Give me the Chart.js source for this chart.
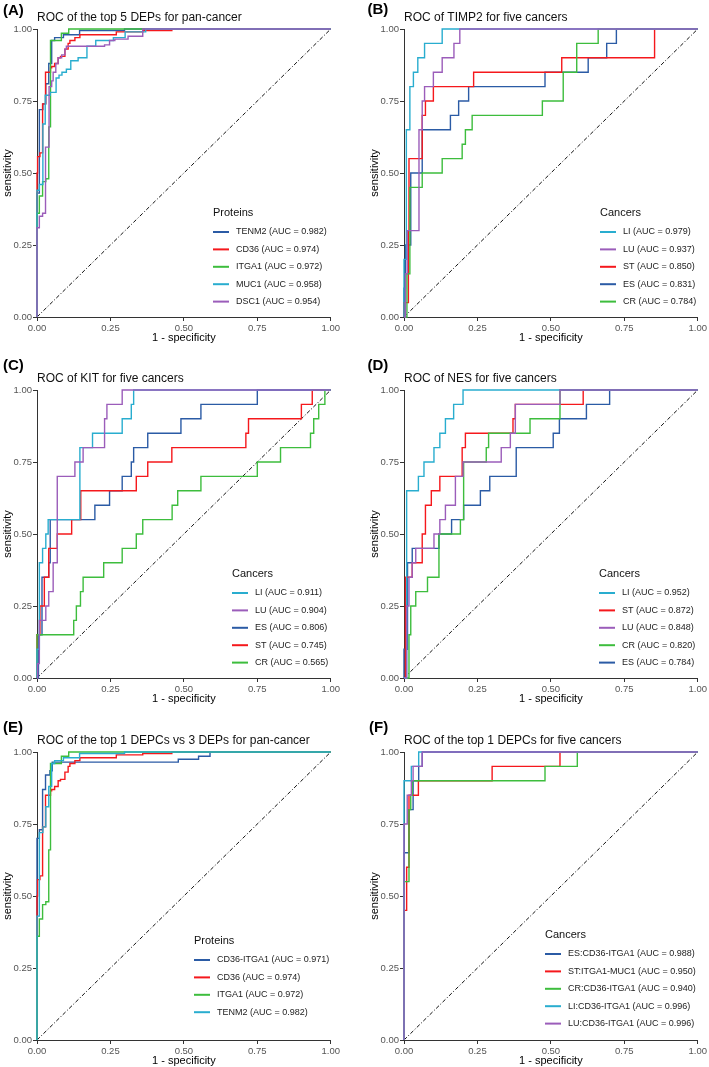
<!DOCTYPE html>
<html>
<head>
<meta charset="utf-8">
<script src="https://cdn.jsdelivr.net/npm/chart.js@4.4.1/dist/chart.umd.min.js"></script>
<style>
  body { margin: 0; background: #fff; }
  #wrap { position: relative; width: 709px; height: 1067px; overflow: hidden; background: #fff; }
  canvas { position: absolute; }
</style>
</head>
<body>
<div id="wrap">
  <canvas id="pA" width="342" height="364" style="left:0px;top:-11px"></canvas>
  <canvas id="pB" width="342" height="364" style="left:367px;top:-11px"></canvas>
  <canvas id="pC" width="342" height="364" style="left:0px;top:350px"></canvas>
  <canvas id="pD" width="342" height="364" style="left:367px;top:350px"></canvas>
  <canvas id="pE" width="342" height="364" style="left:0px;top:712px"></canvas>
  <canvas id="pF" width="342" height="364" style="left:367px;top:712px"></canvas>
</div>
<script>
// --- Data: ROC curves as [1 - specificity, sensitivity] step points ---

// shared pan-cancer proteins (panels A and E)
const rocTENM2 = [[0,0],[0,0.43],[0.008,0.72],[0.02,0.74],[0.03,0.81],[0.04,0.88],[0.05,0.96],[0.06,0.97],[0.09,0.98],[0.145,0.995],[0.298,1],[1,1]];
const rocCD36 = [[0,0],[0,0.5],[0.002,0.557],[0.01,0.57],[0.019,0.67],[0.019,0.74],[0.029,0.82],[0.029,0.85],[0.046,0.865],[0.05,0.87],[0.06,0.88],[0.072,0.9],[0.08,0.905],[0.095,0.93],[0.106,0.95],[0.112,0.96],[0.129,0.97],[0.146,0.98],[0.27,0.99],[0.36,0.995],[0.459,1],[1,1]];
const rocITGA1 = [[0,0],[0,0.36],[0.008,0.42],[0.019,0.47],[0.03,0.48],[0.04,0.66],[0.046,0.96],[0.083,0.985],[0.108,1],[1,1]];
const rocMUC1 = [[0,0],[0,0.44],[0.008,0.46],[0.02,0.48],[0.02,0.67],[0.028,0.77],[0.045,0.78],[0.065,0.83],[0.075,0.84],[0.085,0.85],[0.1,0.86],[0.115,0.89],[0.14,0.9],[0.17,0.94],[0.2,0.96],[0.26,0.97],[0.3,0.99],[0.37,1],[1,1]];
const rocDSC1 = [[0,0],[0,0.31],[0.008,0.35],[0.019,0.36],[0.029,0.59],[0.041,0.8],[0.05,0.82],[0.055,0.85],[0.064,0.88],[0.072,0.9],[0.084,0.91],[0.095,0.93],[0.1,0.94],[0.23,0.945],[0.247,0.96],[0.265,0.965],[0.31,0.975],[0.36,1],[1,1]];
const rocCD36ITGA1 = [[0,0],[0,0.7],[0.008,0.73],[0.019,0.87],[0.029,0.92],[0.044,0.935],[0.052,0.965],[0.481,0.975],[0.55,0.985],[0.589,1],[1,1]];

// TIMP2 (panel B)
const timp2LI = [[0,0],[0,0.2],[0.008,0.65],[0.02,0.8],[0.032,0.85],[0.047,0.9],[0.07,0.95],[0.13,1],[1,1]];
const timp2LU = [[0,0],[0.005,0.15],[0.011,0.3],[0.051,0.65],[0.062,0.75],[0.07,0.8],[0.1,0.85],[0.13,0.9],[0.17,0.95],[0.19,1],[1,1]];
const timp2ST = [[0,0],[0,0.05],[0.015,0.3],[0.017,0.55],[0.062,0.7],[0.073,0.75],[0.1,0.8],[0.237,0.85],[0.537,0.9],[0.853,1],[1,1]];
const timp2ES = [[0,0],[0,0.1],[0.005,0.25],[0.023,0.5],[0.062,0.65],[0.158,0.7],[0.186,0.75],[0.22,0.8],[0.48,0.85],[0.627,0.9],[0.69,0.95],[0.723,1],[1,1]];
const timp2CR = [[0,0],[0.01,0.15],[0.02,0.45],[0.062,0.5],[0.13,0.55],[0.198,0.6],[0.209,0.65],[0.232,0.7],[0.471,0.75],[0.542,0.85],[0.588,0.95],[0.661,1],[1,1]];

// KIT (panel C)
const kitLI = [[0,0],[0,0.1],[0.008,0.4],[0.019,0.45],[0.03,0.5],[0.038,0.55],[0.146,0.8],[0.189,0.85],[0.29,0.9],[0.321,0.95],[0.329,1],[1,1]];
const kitLU = [[0,0],[0.002,0.05],[0.008,0.2],[0.03,0.25],[0.04,0.3],[0.055,0.4],[0.069,0.7],[0.129,0.75],[0.157,0.8],[0.23,0.9],[0.238,0.95],[0.29,1],[1,1]];
const kitES = [[0,0],[0.005,0.15],[0.017,0.35],[0.04,0.4],[0.045,0.55],[0.197,0.6],[0.247,0.65],[0.29,0.7],[0.321,0.75],[0.329,0.8],[0.377,0.85],[0.49,0.9],[0.558,0.95],[0.75,1],[1,1]];
const kitST = [[0,0],[0,0.15],[0.01,0.25],[0.025,0.35],[0.04,0.45],[0.069,0.5],[0.118,0.55],[0.149,0.65],[0.338,0.7],[0.377,0.75],[0.459,0.8],[0.711,0.85],[0.72,0.9],[0.9,0.95],[0.937,1],[1,1]];
const kitCR = [[0,0],[0,0.15],[0.125,0.2],[0.134,0.25],[0.148,0.3],[0.157,0.35],[0.227,0.4],[0.29,0.45],[0.338,0.5],[0.36,0.55],[0.46,0.6],[0.479,0.65],[0.558,0.7],[0.75,0.75],[0.829,0.8],[0.931,0.85],[0.942,0.9],[0.959,0.95],[0.98,1],[1,1]];

// NES (panel D)
const nesLI = [[0,0],[0.009,0.65],[0.049,0.7],[0.068,0.75],[0.102,0.8],[0.122,0.85],[0.141,0.9],[0.169,0.95],[0.201,1],[1,1]];
const nesST = [[0,0],[0.005,0.35],[0.028,0.4],[0.062,0.5],[0.073,0.6],[0.093,0.65],[0.122,0.7],[0.198,0.8],[0.209,0.85],[0.371,0.9],[0.379,0.95],[0.61,1],[1,1]];
const nesLU = [[0,0],[0.009,0.25],[0.017,0.35],[0.028,0.4],[0.04,0.45],[0.102,0.5],[0.122,0.55],[0.141,0.6],[0.175,0.7],[0.201,0.75],[0.331,0.8],[0.362,0.85],[0.379,0.95],[0.531,1],[1,1]];
const nesCR = [[0,0],[0.017,0.15],[0.023,0.25],[0.04,0.3],[0.08,0.35],[0.119,0.5],[0.192,0.55],[0.203,0.75],[0.28,0.8],[0.288,0.85],[0.429,0.9],[0.531,1],[1,1]];
const nesES = [[0,0],[0,0.1],[0.012,0.4],[0.028,0.45],[0.119,0.5],[0.162,0.55],[0.203,0.6],[0.26,0.65],[0.292,0.7],[0.382,0.8],[0.508,0.85],[0.529,0.9],[0.621,0.95],[0.7,1],[1,1]];

// top 1 DEPCs (panel F)
const depcES = [[0,0],[0,0.65],[0.017,0.8],[0.031,0.9],[0.05,0.95],[0.062,1],[1,1]];
const depcST = [[0,0],[0,0.45],[0.009,0.6],[0.017,0.85],[0.049,0.9],[0.3,0.95],[0.531,1],[1,1]];
const depcCR = [[0,0],[0,0.55],[0.017,0.8],[0.023,0.85],[0.028,0.9],[0.48,0.95],[0.59,1],[1,1]];
const depcLI = [[0,0],[0,0.9],[0.025,0.95],[0.05,1],[1,1]];
const depcLU = [[0,0],[0,0.75],[0.011,0.85],[0.025,0.9],[0.031,0.95],[0.062,1],[1,1]];

// legend names and AUCs
const namesA = ['TENM2', 'CD36', 'ITGA1', 'MUC1', 'DSC1'];
const aucA = [0.982, 0.974, 0.972, 0.958, 0.954];
const namesB = ['LI', 'LU', 'ST', 'ES', 'CR'];
const aucB = [0.979, 0.937, 0.850, 0.831, 0.784];
const namesC = ['LI', 'LU', 'ES', 'ST', 'CR'];
const aucC = [0.911, 0.904, 0.806, 0.745, 0.565];
const namesD = ['LI', 'ST', 'LU', 'CR', 'ES'];
const aucD = [0.952, 0.872, 0.848, 0.820, 0.784];
const namesE = ['CD36-ITGA1', 'CD36', 'ITGA1', 'TENM2'];
const aucE = [0.971, 0.974, 0.972, 0.982];
const namesF = ['ES:CD36-ITGA1', 'ST:ITGA1-MUC1', 'CR:CD36-ITGA1', 'LI:CD36-ITGA1', 'LU:CD36-ITGA1'];
const aucF = [0.988, 0.950, 0.940, 0.996, 0.996];

const axisTicks = [0, 0.25, 0.5, 0.75, 1];
const diagonal = [[0, 0], [1, 1]];

// --- Styling ---
const BLUE = '#2B5BA5', RED = '#F5181C', GREEN = '#3DBD3D', CYAN = '#29ADCF', PURPLE = '#9B5DBA';
const FONT = '"Liberation Sans", Arial, Helvetica, sans-serif';
Chart.defaults.font.family = FONT;
Chart.defaults.animation = false;

// panel tag, title and ggplot-style legend inside the plot
const decoPlugin = {
    id: 'deco',
    afterDraw(chart, args, opts) {
        const ctx = chart.ctx;
        const area = chart.chartArea;
        ctx.save();
        ctx.textBaseline = 'middle';
        ctx.textAlign = 'left';
        ctx.fillStyle = '#000';
        ctx.font = 'bold 15px ' + FONT;
        ctx.fillText(opts.tag, opts.tagX, opts.tagY);
        ctx.font = '12px ' + FONT;
        ctx.fillStyle = '#111';
        ctx.fillText(opts.title, area.left, area.top - 11);

        // legend
        ctx.font = '11px ' + FONT;
        ctx.fillText(opts.legendTitle, opts.legendX, opts.legendY);
        ctx.font = '9px ' + FONT;
        let row = 0;
        chart.data.datasets.forEach(ds => {
            if (!ds.label) return;
            const y = opts.legendY + 19 + row * 17.4;
            ctx.strokeStyle = ds.borderColor;
            ctx.lineWidth = 2;
            ctx.beginPath();
            ctx.moveTo(opts.legendX, y);
            ctx.lineTo(opts.legendX + 16, y);
            ctx.stroke();
            ctx.fillStyle = '#222';
            ctx.fillText(ds.label, opts.legendX + 23, y);
            row++;
        });
        ctx.restore();
    }
};

function axisOptions(title, isX) {
    return {
        type: 'linear',
        min: 0,
        max: 1,
        afterFit: s => { if (isX) s.height = 36; else s.width = 37; },
        afterBuildTicks: s => { s.ticks = axisTicks.map(v => ({ value: v })); },
        ticks: {
            callback: v => v.toFixed(2),
            color: '#555',
            font: { size: 9.5 },
            padding: isX ? 2 : 1,
            maxRotation: 0,
            autoSkip: false
        },
        grid: { drawOnChartArea: false, drawTicks: true, tickLength: 4, color: '#333' },
        border: { display: true, color: '#333', width: 1 },
        title: {
            display: true,
            text: title,
            color: '#000',
            font: { size: 11 },
            padding: isX ? { top: 0, bottom: 8 } : { top: 1, bottom: 0 }
        }
    };
}

function makePanel(id, names, aucs, curves, colors, drawOrder, deco) {
    const datasets = names.map((n, i) => ({
        label: `${n} (AUC = ${aucs[i].toFixed(3)})`,
        data: curves[i],
        borderColor: colors[i],
        borderWidth: 1.4,
        pointRadius: 0,
        stepped: 'before',
        fill: false,
        clip: false,
        order: drawOrder[i]
    }));
    datasets.push({
        label: '',
        data: diagonal,
        borderColor: '#111',
        borderWidth: 1,
        borderDash: [4, 2, 1, 2],
        pointRadius: 0,
        fill: false,
        order: 50
    });

    new Chart(document.getElementById(id), {
        type: 'line',
        data: { datasets },
        options: {
            responsive: false,
            layout: { padding: { top: 40, right: 10, left: 0, bottom: 0 } },
            scales: {
                x: axisOptions('1 - specificity', true),
                y: axisOptions('sensitivity', false)
            },
            plugins: {
                legend: { display: false },
                tooltip: { enabled: false },
                deco
            }
        },
        plugins: [decoPlugin]
    });
}

makePanel('pA', namesA, aucA, [rocTENM2, rocCD36, rocITGA1, rocMUC1, rocDSC1],
    [BLUE, RED, GREEN, CYAN, PURPLE], [4, 3, 2, 1, 0],
    { tag: '(A)', tagX: 3, tagY: 22, title: 'ROC of the top 5 DEPs for pan-cancer', legendTitle: 'Proteins', legendX: 213, legendY: 224 });

// cancers drawn in ES, ST, CR, LI, LU order (LU on top)
makePanel('pB', namesB, aucB, [timp2LI, timp2LU, timp2ST, timp2ES, timp2CR],
    [CYAN, PURPLE, RED, BLUE, GREEN], [1, 0, 3, 4, 2],
    { tag: '(B)', tagX: 0.5, tagY: 21, title: 'ROC of TIMP2 for five cancers', legendTitle: 'Cancers', legendX: 233, legendY: 224 });

makePanel('pC', namesC, aucC, [kitLI, kitLU, kitES, kitST, kitCR],
    [CYAN, PURPLE, BLUE, RED, GREEN], [1, 0, 4, 3, 2],
    { tag: '(C)', tagX: 3, tagY: 16, title: 'ROC of KIT for five cancers', legendTitle: 'Cancers', legendX: 232, legendY: 224 });

makePanel('pD', namesD, aucD, [nesLI, nesST, nesLU, nesCR, nesES],
    [CYAN, RED, PURPLE, GREEN, BLUE], [1, 3, 0, 2, 4],
    { tag: '(D)', tagX: 0.5, tagY: 16, title: 'ROC of NES for five cancers', legendTitle: 'Cancers', legendX: 232, legendY: 224 });

makePanel('pE', namesE, aucE, [rocCD36ITGA1, rocCD36, rocITGA1, rocTENM2],
    [BLUE, RED, GREEN, CYAN], [3, 2, 1, 0],
    { tag: '(E)', tagX: 3, tagY: 16, title: 'ROC of the top 1 DEPCs vs 3 DEPs for pan-cancer', legendTitle: 'Proteins', legendX: 194, legendY: 229 });

makePanel('pF', namesF, aucF, [depcES, depcST, depcCR, depcLI, depcLU],
    [BLUE, RED, GREEN, CYAN, PURPLE], [4, 3, 2, 1, 0],
    { tag: '(F)', tagX: 2, tagY: 16, title: 'ROC of the top 1 DEPCs for five cancers', legendTitle: 'Cancers', legendX: 178, legendY: 223 });
</script>
</body>
</html>
